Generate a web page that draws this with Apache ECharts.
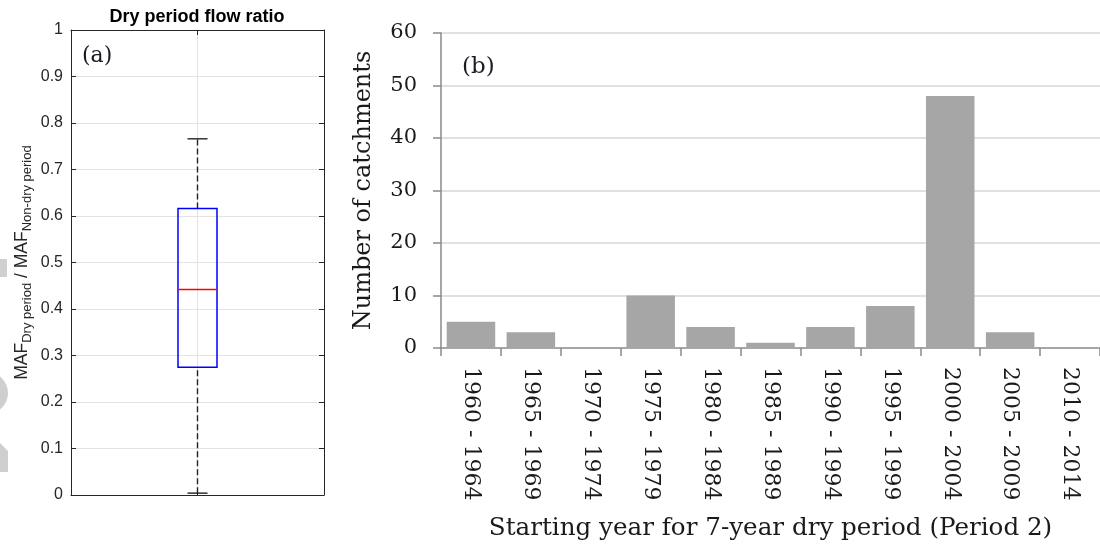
<!DOCTYPE html>
<html>
<head>
<meta charset="utf-8">
<title>Dry period flow ratio and dry-period start years</title>
<script src="https://cdn.jsdelivr.net/npm/echarts@6/dist/echarts.min.js"></script>
<style>
  html, body { margin: 0; padding: 0; background: #fff; }
  #chart { width: 1100px; height: 549px; }
</style>
</head>
<body>
<div id="chart"></div>
<script>
// (a) box-plot summary of MAF(dry) / MAF(non-dry):
// lower whisker, first quartile, median, third quartile, upper whisker
const ratioStats = [0.004, 0.275, 0.442, 0.616, 0.766];

// (b) number of catchments per starting period of the 7-year dry spell
const periods = [
  '1960 - 1964', '1965 - 1969', '1970 - 1974', '1975 - 1979', '1980 - 1984',
  '1985 - 1989', '1990 - 1994', '1995 - 1999', '2000 - 2004', '2005 - 2009',
  '2010 - 2014'
];
const catchmentCounts = [5, 3, 0, 10, 4, 1, 4, 8, 48, 3, 0];

const SANS = '"Liberation Sans", Arial, Helvetica, sans-serif';
const SERIF = '"DejaVu Serif", serif';
const AXIS_DARK = '#262626';
const GRID_LIGHT = '#e3e3e3';

const chart = echarts.init(document.getElementById('chart'), null, { renderer: 'canvas' });

// MATLAB-style box: dashed whiskers, blue box, red median
function renderBox(params, api) {
  const x = api.value(0);
  const pt = i => api.coord([x, api.value(i)]);
  const lo = pt(1), q1 = pt(2), md = pt(3), q3 = pt(4), hi = pt(5);
  const cx = lo[0];
  const halfBox = 19.5, halfCap = 10;
  const dashed = { stroke: '#222', lineWidth: 1.4, lineDash: [6, 3] };
  const solid = { stroke: '#222', lineWidth: 1.4 };
  return {
    type: 'group',
    children: [
      { type: 'line', shape: { x1: cx, y1: lo[1], x2: cx, y2: q1[1] }, style: dashed },
      { type: 'line', shape: { x1: cx, y1: q3[1], x2: cx, y2: hi[1] }, style: dashed },
      { type: 'line', shape: { x1: cx - halfCap, y1: lo[1], x2: cx + halfCap, y2: lo[1] }, style: solid },
      { type: 'line', shape: { x1: cx - halfCap, y1: hi[1], x2: cx + halfCap, y2: hi[1] }, style: solid },
      { type: 'rect', shape: { x: cx - halfBox, y: q3[1], width: 2 * halfBox, height: q1[1] - q3[1] },
        style: { fill: 'none', stroke: '#0000ff', lineWidth: 1.5 } },
      { type: 'line', shape: { x1: cx - halfBox, y1: md[1], x2: cx + halfBox, y2: md[1] },
        style: { stroke: '#ff0000', lineWidth: 1.5 } }
    ]
  };
}

const frameAxisX = (position) => ({
  type: 'value', gridIndex: 0, position: position,
  min: 0, max: 2, interval: 1,
  axisLine: { show: true, onZero: false, lineStyle: { color: AXIS_DARK, width: 1 } },
  axisTick: { show: true, inside: true, length: 5, lineStyle: { color: AXIS_DARK } },
  axisLabel: { show: false },
  splitLine: { show: position === 'bottom', showMinLine: false, showMaxLine: false,
               lineStyle: { color: GRID_LIGHT, width: 1 } }
});

const frameAxisY = (position) => ({
  type: 'value', gridIndex: 0, position: position,
  min: 0, max: 1, interval: 0.1,
  axisLine: { show: true, onZero: false, lineStyle: { color: AXIS_DARK, width: 1 } },
  axisTick: { show: true, inside: true, length: 5, lineStyle: { color: AXIS_DARK } },
  axisLabel: { show: position === 'left', margin: 8, color: AXIS_DARK, fontSize: 16, fontFamily: SANS },
  splitLine: { show: position === 'left', showMinLine: false, showMaxLine: false,
               lineStyle: { color: GRID_LIGHT, width: 1 } }
});

const leftY = frameAxisY('left');
leftY.name = '{m|MAF}{s|Dry period}{m| / MAF}{s|Non-dry period}';
leftY.nameLocation = 'middle';
leftY.nameRotate = 90;
leftY.nameGap = 37;
leftY.nameTextStyle = {
  color: AXIS_DARK, fontFamily: SANS,
  rich: {
    m: { fontSize: 17.5, lineHeight: 24, fontFamily: SANS, color: AXIS_DARK },
    s: { fontSize: 13, lineHeight: 13, verticalAlign: 'bottom', fontFamily: SANS, color: AXIS_DARK }
  }
};

const option = {
  animation: false,
  backgroundColor: '#ffffff',
  grid: [
    { left: 71, top: 30, width: 253, height: 465 },
    { left: 441, top: 33, width: 666, height: 315 }
  ],
  xAxis: [
    frameAxisX('bottom'),
    frameAxisX('top'),
    {
      type: 'category', gridIndex: 1, data: periods,
      axisLine: { show: true, lineStyle: { color: '#8a8a8a', width: 1.5 } },
      axisTick: { show: true, length: 8, lineStyle: { color: '#8a8a8a', width: 1.5 } },
      axisLabel: { rotate: -90, margin: 19, color: '#1a1a1a', fontSize: 22, fontFamily: SERIF },
      name: 'Starting year for 7-year dry period (Period 2)',
      nameLocation: 'middle', nameGap: 168,
      nameTextStyle: { color: '#1a1a1a', fontSize: 24.6, fontFamily: SERIF }
    }
  ],
  yAxis: [
    leftY,
    frameAxisY('right'),
    {
      type: 'value', gridIndex: 1, min: 0, max: 60, interval: 10,
      axisLine: { show: true, lineStyle: { color: '#8a8a8a', width: 1.5 } },
      axisTick: { show: true, length: 8, lineStyle: { color: '#8a8a8a', width: 1.5 } },
      axisLabel: { margin: 24, color: '#1a1a1a', fontSize: 21, fontFamily: SERIF },
      splitLine: { show: true, showMinLine: false, lineStyle: { color: '#d6d6d6', width: 1.5 } },
      name: 'Number of catchments',
      nameLocation: 'middle', nameRotate: 90, nameGap: 65,
      nameTextStyle: { color: '#1a1a1a', fontSize: 24, fontFamily: SERIF }
    }
  ],
  series: [
    {
      type: 'custom', name: 'Dry period flow ratio',
      xAxisIndex: 0, yAxisIndex: 0,
      renderItem: renderBox,
      encode: { x: 0, y: [1, 2, 3, 4, 5] },
      data: [[1].concat(ratioStats)],
      z: 5
    },
    {
      type: 'bar', name: 'Number of catchments',
      xAxisIndex: 2, yAxisIndex: 2,
      data: catchmentCounts,
      barCategoryGap: '19%',
      itemStyle: { color: '#a6a6a6' }
    }
  ],
  graphic: [
    { type: 'text', x: 197, y: 17,
      style: { text: 'Dry period flow ratio', align: 'center', verticalAlign: 'middle',
               font: 'bold 18px ' + SANS, fill: '#000' } },
    { type: 'text', x: 82, y: 56,
      style: { text: '(a)', align: 'left', verticalAlign: 'middle',
               font: '22px ' + SERIF, fill: '#1a1a22' } },
    { type: 'text', x: 462, y: 67,
      style: { text: '(b)', align: 'left', verticalAlign: 'middle',
               font: '23px ' + SERIF, fill: '#1a1a22' } },
    // faint grey shapes along the left page edge
    { type: 'rect', shape: { x: 0, y: 259, width: 7, height: 18 }, style: { fill: '#cfcfcf' } },
    { type: 'circle', shape: { cx: -13, cy: 393, r: 21 }, style: { fill: '#cfcfcf' } },
    { type: 'polygon', shape: { points: [[0, 443], [8, 451], [8, 472], [0, 472]] }, style: { fill: '#cfcfcf' } }
  ]
};

chart.setOption(option);
</script>
</body>
</html>
